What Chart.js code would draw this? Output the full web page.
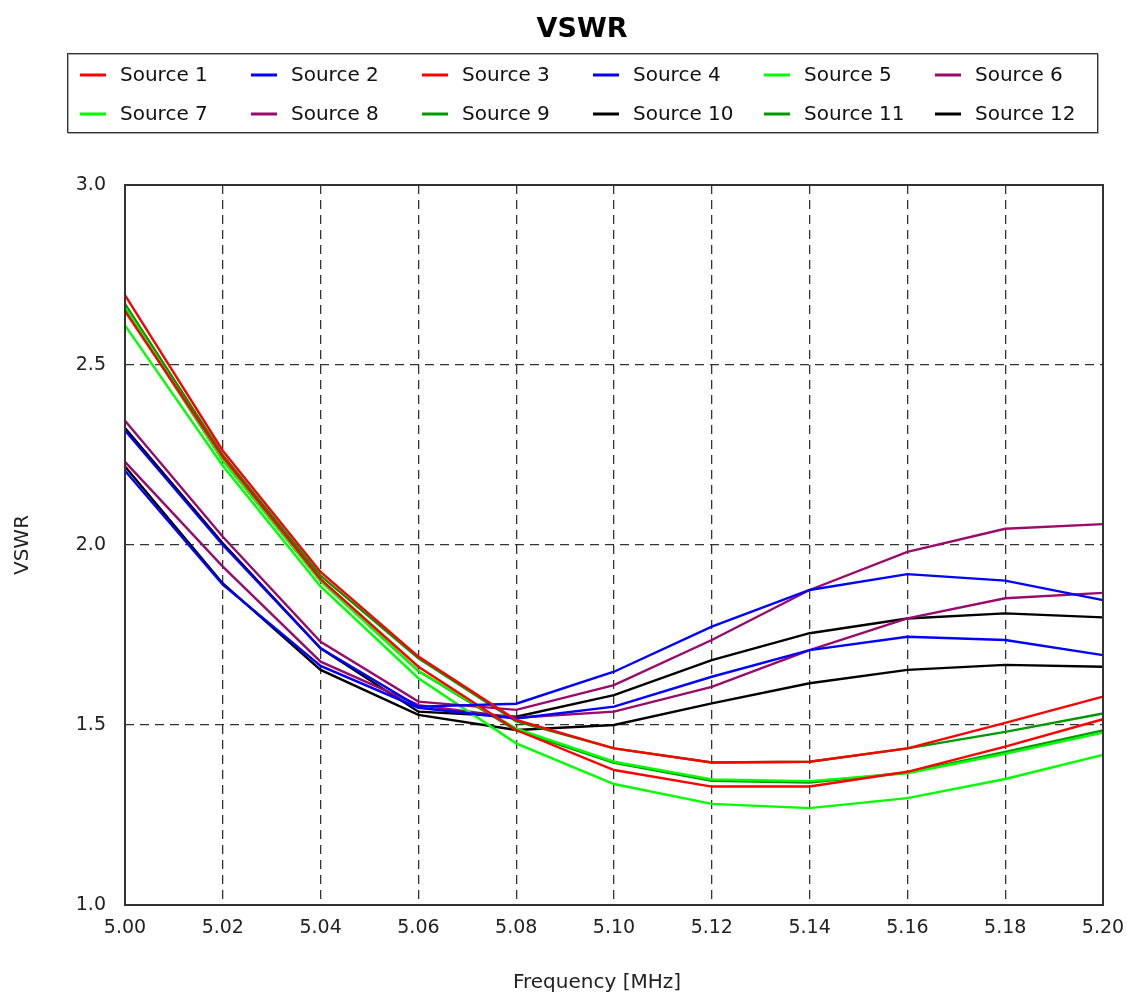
<!DOCTYPE html>
<html>
<head>
<meta charset="utf-8">
<script src="https://cdn.jsdelivr.net/npm/chart.js@4/dist/chart.umd.min.js"></script>
<style>
html,body{margin:0;padding:0;background:#fff;}
#wrap{width:1127px;height:997px;position:relative;}
</style>
</head>
<body>
<div id="wrap"><canvas id="c" width="1127" height="997"></canvas></div>
<script>
const frequencies = ['5.00','5.02','5.04','5.06','5.08','5.10','5.12','5.14','5.16','5.18','5.20'];
const yTicks = [1.0, 1.5, 2.0, 2.5, 3.0];

const source1  = [2.694, 2.262, 1.925, 1.690, 1.514, 1.435, 1.396, 1.398, 1.435, 1.506, 1.579];
const source2  = [2.318, 2.000, 1.713, 1.551, 1.559, 1.648, 1.773, 1.875, 1.919, 1.901, 1.847];
const source3  = [2.650, 2.245, 1.905, 1.662, 1.486, 1.375, 1.329, 1.329, 1.370, 1.440, 1.516];
const source4  = [2.206, 1.890, 1.664, 1.548, 1.518, 1.551, 1.634, 1.708, 1.745, 1.736, 1.694];
const source5  = [2.660, 2.235, 1.900, 1.650, 1.490, 1.398, 1.349, 1.344, 1.366, 1.420, 1.479];
const source6  = [2.345, 2.023, 1.731, 1.565, 1.542, 1.611, 1.736, 1.875, 1.981, 2.045, 2.058];
const source7  = [2.610, 2.220, 1.885, 1.630, 1.449, 1.336, 1.281, 1.269, 1.297, 1.350, 1.417];
const source8  = [2.231, 1.940, 1.676, 1.555, 1.520, 1.537, 1.606, 1.708, 1.796, 1.852, 1.867];
const source9  = [2.670, 2.250, 1.915, 1.685, 1.510, 1.435, 1.396, 1.398, 1.435, 1.481, 1.532];
const source10 = [2.325, 2.005, 1.713, 1.537, 1.523, 1.583, 1.680, 1.755, 1.796, 1.810, 1.799];
const source11 = [2.655, 2.235, 1.900, 1.650, 1.485, 1.395, 1.345, 1.340, 1.368, 1.425, 1.485];
const source12 = [2.218, 1.893, 1.653, 1.528, 1.486, 1.500, 1.560, 1.616, 1.653, 1.667, 1.662];

const seriesNames = ['Source 1','Source 2','Source 3','Source 4','Source 5','Source 6',
                     'Source 7','Source 8','Source 9','Source 10','Source 11','Source 12'];
const seriesValues = [source1, source2, source3, source4, source5, source6,
                      source7, source8, source9, source10, source11, source12];
const RED='#ff0000', BLUE='#0000ff', LIME='#00ff00', PURPLE='#9a0a6c', DKGREEN='#009a00', BLACK='#000000';
const seriesColors = [RED, BLUE, RED, BLUE, LIME, PURPLE, LIME, PURPLE, DKGREEN, BLACK, DKGREEN, BLACK];

const FONT = "'DejaVu Sans', 'Liberation Sans', Arial, sans-serif";

const datasets = seriesNames.map((n, i) => ({
  label: n,
  data: seriesValues[i],
  borderColor: seriesColors[i],
  backgroundColor: seriesColors[i],
  borderWidth: 2.4,
  pointRadius: 0,
  tension: 0,
  fill: false
}));

const decor = {
  id: 'decor',
  afterDraw(chart) {
    const ctx = chart.ctx;
    const a = chart.chartArea;
    ctx.save();
    // plot frame
    ctx.strokeStyle = '#333';
    ctx.lineWidth = 2;
    ctx.strokeRect(a.left, a.top, a.right - a.left, a.bottom - a.top);
    // title
    ctx.fillStyle = '#000';
    ctx.font = "bold 27px " + FONT;
    ctx.textAlign = 'center';
    ctx.textBaseline = 'middle';
    ctx.fillText('VSWR', 582, 30);
    // legend box
    ctx.strokeStyle = '#aaa';
    ctx.lineWidth = 1;
    ctx.strokeRect(68.5, 54.5, 1030, 79);
    ctx.strokeStyle = '#333';
    ctx.strokeRect(67.5, 53.5, 1030, 79);
    ctx.font = "20px " + FONT;
    ctx.textAlign = 'left';
    const colX = [80, 251, 422, 593, 764, 935];
    const rowY = [75, 114];
    chart.data.datasets.forEach((ds, i) => {
      const x = colX[i % 6], y = rowY[Math.floor(i / 6)];
      ctx.strokeStyle = ds.borderColor;
      ctx.lineWidth = 3;
      ctx.beginPath();
      ctx.moveTo(x, y);
      ctx.lineTo(x + 26, y);
      ctx.stroke();
      ctx.fillStyle = '#111';
      ctx.fillText(ds.label, x + 40, y + 1);
    });
    // x-axis title
    ctx.font = "20px " + FONT;
    ctx.textAlign = 'center';
    ctx.fillStyle = '#222';
    ctx.fillText('Frequency [MHz]', 597, 983);
    ctx.restore();
  }
};

new Chart(document.getElementById('c'), {
  type: 'line',
  data: { labels: frequencies, datasets: datasets },
  options: {
    responsive: false,
    animation: false,
    devicePixelRatio: 1,
    layout: { padding: { top: 185, left: 0, right: 24, bottom: 0 } },
    plugins: { legend: { display: false }, title: { display: false }, tooltip: { enabled: false } },
    scales: {
      x: {
        type: 'category',
        offset: false,
        grid: { color: '#333', lineWidth: 1.3, drawTicks: false },
        border: { display: false, dash: [9, 6] },
        ticks: { color: '#222', font: { family: FONT, size: 19 }, padding: 12, maxRotation: 0, autoSkip: false },
        afterFit: s => { s.height = 92; s.paddingRight = 0; s.paddingLeft = 0; }
      },
      y: {
        min: 1, max: 3,
        afterBuildTicks: s => { s.ticks = yTicks.map(v => ({ value: v })); },
        grid: { color: '#333', lineWidth: 1.3, drawTicks: false },
        border: { display: false, dash: [9, 6] },
        ticks: { color: '#222', font: { family: FONT, size: 19 }, padding: 19, callback: v => Number(v).toFixed(1) },
        title: { display: true, text: 'VSWR', color: '#222', font: { family: FONT, size: 20 }, padding: { top: 11, bottom: 0 } },
        afterFit: s => { s.width = 125; s.paddingTop = 0; s.paddingBottom = 0; }
      }
    }
  },
  plugins: [decor]
});
</script>
</body>
</html>
